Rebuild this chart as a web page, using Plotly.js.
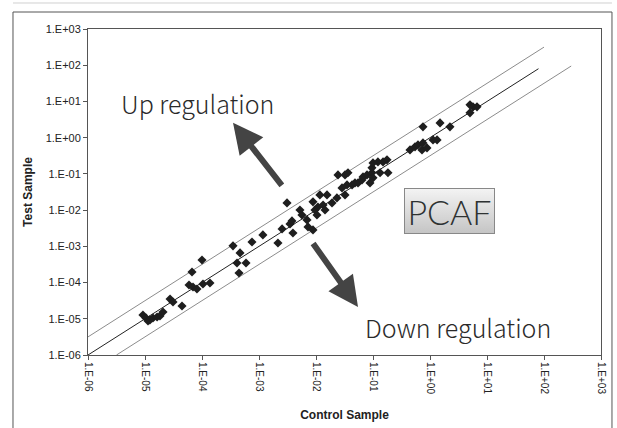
<!DOCTYPE html>
<html>
<head>
<meta charset="utf-8">
<script src="https://cdn.plot.ly/plotly-3.0.1.min.js"></script>
<style>html,body{margin:0;padding:0;background:#fff;}#chart{width:617px;height:428px;}</style>
</head>
<body>
<div id="chart"></div>
<script>
// Measured samples (Control Sample vs Test Sample)
var controlSample = [
  9.2e-6,1.04e-5,1.13e-5,1.22e-5,1.38e-5,1.63e-5,1.83e-5,2.07e-5,
  2.75e-5,3.10e-5,4.46e-5,6.68e-5,1.0e-4,5.92e-5,6.95e-5,8.16e-5,1.04e-4,1.38e-4,
  3.50e-4,4.65e-4,4.11e-4,5.92e-4,4.46e-4,7.53e-4,1.17e-3,2.15e-3,2.54e-3,3.10e-3,3.50e-3,3.79e-3,3.94e-3,
  5.23e-3,5.67e-3,6.95e-3,7.24e-3,8.85e-3,9.59e-3,1.04e-2,1.08e-2,1.17e-2,1.33e-2,1.44e-2,1.56e-2,1.91e-2,2.33e-2,8.85e-3,
  2.43e-2,3.23e-2,3.64e-2,2.86e-2,3.23e-2,3.50e-2,4.29e-2,4.83e-2,5.46e-2,6.41e-2,6.68e-2,7.85e-2,9.59e-2,
  8.85e-2,1.0e-1,9.59e-2,1.0e-1,1.22e-1,1.50e-1,1.76e-1,1.33e-1,1.83e-1,
  4.46e-1,5.46e-1,6.15e-1,7.24e-1,8.85e-1,7.53e-1,1.13,1.33,7.53e-1,1.50,2.24,5.03,5.68,6.68,5.03
];
var testSample = [
  1.27e-5,1.05e-5,8.7e-6,9.3e-6,1.05e-5,1.12e-5,1.19e-5,1.54e-5,
  3.52e-5,2.91e-5,2.26e-5,1.96e-4,4.21e-4,8.6e-5,7.55e-5,6.65e-5,9.14e-5,9.75e-5,
  1.03e-3,6.58e-4,3.48e-4,3.48e-4,1.84e-4,1.32e-3,2.07e-3,1.24e-3,3.03e-3,1.58e-2,4.16e-3,5.04e-3,2.34e-3,
  1.01e-2,7.36e-3,5.36e-3,3.44e-3,1.69e-2,1.01e-2,7.36e-3,1.22e-2,2.63e-2,1.39e-2,1.01e-2,2.63e-2,1.58e-2,2.17e-2,2.84e-3,
  9.37e-2,9.37e-2,1.07e-1,4.10e-2,2.63e-2,4.97e-2,4.97e-2,5.64e-2,5.64e-2,6.82e-2,8.26e-2,9.37e-2,1.07e-1,
  5.64e-2,7.77e-2,1.47e-1,2.01e-1,2.14e-1,2.14e-1,2.44e-1,1.07e-1,1.07e-1,
  4.60e-1,5.57e-1,6.32e-1,4.60e-1,5.22e-1,7.18e-1,8.69e-1,8.69e-1,1.99,2.56,1.99,8.05,7.10,7.10,4.84
];
// Reference lines (equal, 10^0.5-fold up, 10^0.5-fold down)
var equalX = [1e-6, 80];
var equalY = [1e-6, 80];
var upperX = [1e-6, 100];
var upperY = [3.16e-6, 316];
var lowerX = [3.16e-6, 300];
var lowerY = [1e-6, 95];
// Tick labels
var tickValues = [1e-6,1e-5,1e-4,1e-3,1e-2,1e-1,1e0,1e1,1e2,1e3];
var tickLabels = ['1.E-06','1.E-05','1.E-04','1.E-03','1.E-02','1.E-01','1.E+00','1.E+01','1.E+02','1.E+03'];

var traces = [
  {x: upperX, y: upperY, mode: 'lines', line: {color: '#8c8c8c', width: 1}, hoverinfo: 'skip'},
  {x: lowerX, y: lowerY, mode: 'lines', line: {color: '#8c8c8c', width: 1}, hoverinfo: 'skip'},
  {x: equalX, y: equalY, mode: 'lines', line: {color: '#222', width: 1}, hoverinfo: 'skip'},
  {x: controlSample, y: testSample, mode: 'markers',
   marker: {symbol: 'diamond', size: 7, color: '#1e1e1e'}}
];

var axisCommon = {
  type: 'log', range: [-6, 3], tickvals: tickValues, ticktext: tickLabels,
  showgrid: false, zeroline: false, showline: true, mirror: true,
  linecolor: '#555', linewidth: 1, ticks: 'outside', ticklen: 4, tickcolor: '#555'
};

var xaxis = Object.assign({}, axisCommon, {
  tickangle: 90,
  tickfont: {family: 'Liberation Sans, Arial, sans-serif', size: 10, color: '#222'},
  title: {text: 'Control Sample', standoff: 17,
          font: {family: 'Liberation Sans, Arial, sans-serif', size: 12, color: '#222', weight: 'bold'}}
});
var yaxis = Object.assign({}, axisCommon, {
  tickfont: {family: 'Liberation Sans, Arial, sans-serif', size: 11, color: '#222'},
  title: {text: 'Test Sample', standoff: 10,
          font: {family: 'Liberation Sans, Arial, sans-serif', size: 12, color: '#222', weight: 'bold'}}
});

var gradSvg = '<svg xmlns="http://www.w3.org/2000/svg" width="91" height="46"><defs><linearGradient id="g" x1="0" y1="0" x2="0" y2="1"><stop offset="0" stop-color="#f4f4f4"/><stop offset="1" stop-color="#c4c4c4"/></linearGradient></defs><rect width="91" height="46" fill="url(#g)"/></svg>';

var layout = {
  width: 617, height: 428,
  margin: {l: 88, r: 16, t: 29, b: 73},
  paper_bgcolor: '#fff', plot_bgcolor: '#fff',
  showlegend: false,
  xaxis: xaxis, yaxis: yaxis,
  images: [{
    source: 'data:image/svg+xml;charset=utf-8,' + encodeURIComponent(gradSvg),
    xref: 'paper', yref: 'paper', x: 0.7047, y: 0.4417, xanchor: 'center', yanchor: 'middle',
    sizex: 91/513, sizey: 46/326, sizing: 'stretch', layer: 'above'
  }],
  shapes: [
    {type: 'rect', xref: 'paper', yref: 'paper', x0: -0.1462, x1: 1.0214, y0: -0.25, y1: 1.0521,
     line: {color: '#555', width: 1}, fillcolor: 'rgba(0,0,0,0)', layer: 'below'},
    {type: 'line', xref: 'paper', yref: 'paper', x0: -0.1462, x1: 1.0214, y0: 1.0798, y1: 1.0798,
     line: {color: '#d0d0d0', width: 1}}
  ],
  annotations: [
    {xref: 'x', yref: 'y', axref: 'x', ayref: 'y', x: -3.456, y: 0.409, ax: -2.579, ay: -1.359,
     text: '', showarrow: true, arrowhead: 2, arrowsize: 1, arrowwidth: 6, arrowcolor: '#444'},
    {xref: 'x', yref: 'y', axref: 'x', ayref: 'y', x: -1.263, y: -4.674, ax: -2.070, ay: -2.878,
     text: '', showarrow: true, arrowhead: 2, arrowsize: 1, arrowwidth: 6, arrowcolor: '#444'},
    {xref: 'paper', yref: 'paper', x: 0.2135, y: 0.773, xanchor: 'center', yanchor: 'middle',
     text: 'Up regulation', showarrow: false,
     font: {family: 'Noto Sans CJK JP, Noto Sans, sans-serif', size: 25, color: '#2a2a2a', weight: 300}},
    {xref: 'paper', yref: 'paper', x: 0.721, y: 0.086, xanchor: 'center', yanchor: 'middle',
     text: 'Down regulation', showarrow: false,
     font: {family: 'Noto Sans CJK JP, Noto Sans, sans-serif', size: 25, color: '#2a2a2a', weight: 300}},
    {xref: 'paper', yref: 'paper', x: 0.7047, y: 0.4417, xanchor: 'center', yanchor: 'middle',
     text: 'PCAF', showarrow: false, width: 89, height: 44, borderwidth: 1, bordercolor: '#888', borderpad: 0,
     font: {family: 'Lato, sans-serif', size: 34, color: '#2e3232', weight: 300}}
  ]
};

Plotly.newPlot('chart', traces, layout, {staticPlot: true, displayModeBar: false});
</script>
</body>
</html>
